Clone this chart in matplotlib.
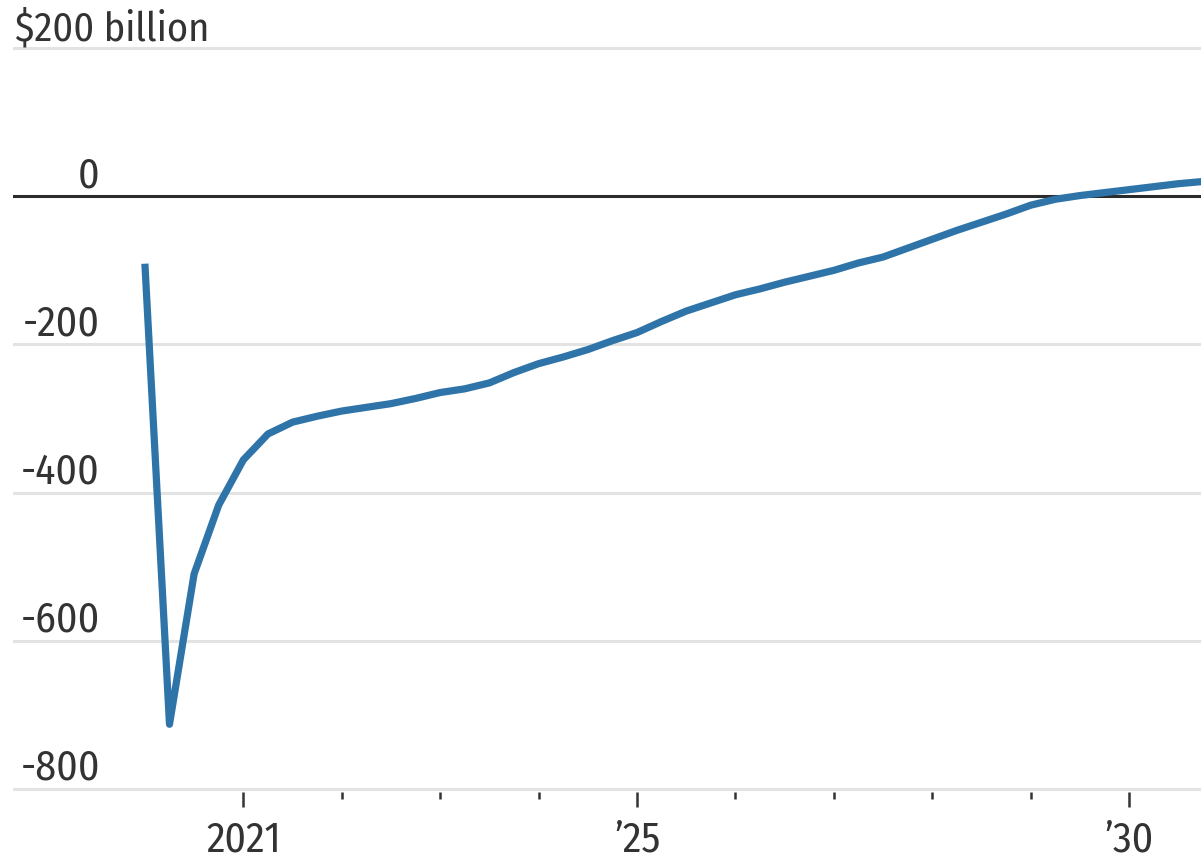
import matplotlib
matplotlib.use("Agg")
import matplotlib.pyplot as plt

# Quarterly balance, $ billions, starting 2020 Q1
start_year = 2020
values = [
    -91, -713, -510, -417, -356, -321, -305, -297, -290, -285,
    -280, -273, -265, -260, -252, -238, -226, -217, -207, -195,
    -184, -169, -155, -144, -133, -125, -116, -108, -100, -90,
    -82, -70, -58, -46, -35, -24, -12, -4, 1, 5,
    9, 13, 17, 20,
]
dates = [start_year + 0.25 * i for i in range(len(values))]

y_ticks = [200, 0, -200, -400, -600, -800]
y_labels = ["$200 billion", "0", "-200", "-400", "-600", "-800"]
x_major = [2021, 2025, 2030]
x_major_labels = ["2021", "\u201925", "\u201930"]
x_minor = [2022, 2023, 2024, 2026, 2027, 2028, 2029]

plt.rcParams["font.family"] = ["Fira Sans Condensed", "DejaVu Sans"]
plt.rcParams["font.weight"] = "normal"

W, H = 1201, 859
fig = plt.figure(figsize=(W / 100, H / 100), dpi=100)

# axes placement in pixels
left_px, right_px = 13, 1201
y_top_val, y_bot_val = 220, -804
px_per_unit = 0.7405
y200_px = 48.2
top_px = y200_px - (y_top_val - 200) * px_per_unit
bot_px = y200_px + (200 - y_bot_val) * px_per_unit
ax = fig.add_axes([left_px / W, 1 - bot_px / H, (right_px - left_px) / W, (bot_px - top_px) / H])
ax.set_ylim(y_bot_val, y_top_val)
ax.set_xlim(2018.66, 2030.73)

for s in ax.spines.values():
    s.set_visible(False)

text_color = "#333333"
for v in y_ticks:
    if v == 0:
        ax.axhline(v, color="#2b2b2b", lw=2.2, zorder=3)
    else:
        ax.axhline(v, color="#e3e3e3", lw=2.2, zorder=1)

ax.plot(dates, values, color="#2f74a8", lw=5.2, solid_joinstyle="round",
        solid_capstyle="butt", zorder=4)

ytrans = ax.get_yaxis_transform()
span = right_px - left_px
for v, lab in zip(y_ticks, y_labels):
    if v == 200:
        ax.annotate(lab, xy=((15 - left_px) / span, v), xycoords=ytrans,
                    xytext=(0, 8), textcoords="offset pixels", ha="left", va="baseline",
                    fontsize=29, color=text_color)
    else:
        ax.annotate(lab, xy=((100 - left_px) / span, v), xycoords=ytrans,
                    xytext=(0, 9), textcoords="offset pixels", ha="right", va="baseline",
                    fontsize=30, color=text_color)

ax.set_yticks([])
ax.set_xticks(x_major)
ax.set_xticklabels(x_major_labels)
ax.set_xticks(x_minor, minor=True)
ax.tick_params(axis="x", which="major", direction="out", length=11, width=1.8,
               color=text_color, labelsize=30, labelcolor=text_color, pad=9)
ax.tick_params(axis="x", which="minor", direction="out", length=5, width=1.8,
               color=text_color)

fig.savefig("out.png", dpi=100, facecolor="white")
